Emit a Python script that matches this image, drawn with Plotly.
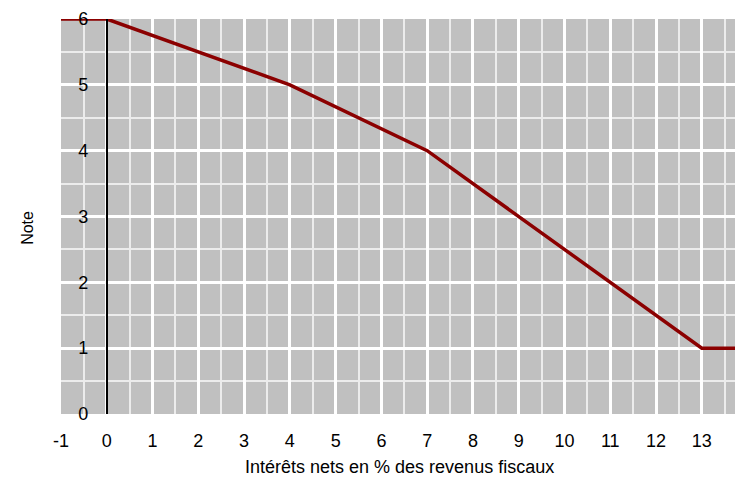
import plotly.graph_objects as go

# Data
interets = [-1, 0, 4, 7, 13, 14]
notes = [6, 6, 5, 4, 1, 1]
x_ticks = list(range(-1, 14))
x_ticktext = [str(v) for v in x_ticks]
y_ticks = list(range(0, 7))

x_title = "Intérêts nets en % des revenus fiscaux"
y_title = "Note"

FONT = "Liberation Sans Narrow, Liberation Sans, Arial, sans-serif"

fig = go.Figure()
fig.add_trace(go.Scatter(
    x=interets, y=notes, mode="lines",
    line=dict(color="#8b0000", width=3.5),
    showlegend=False, hoverinfo="skip",
))

x0, x1 = -1, 13.9
# page body has an 8px margin, so figure is 735x472 placed at (8, 8)
fig.update_layout(
    width=735, height=472,
    margin=dict(l=53, r=0, t=11, b=66, autoexpand=False),
    paper_bgcolor="white",
    plot_bgcolor="#c0c0c0",
    font=dict(family=FONT, size=18, color="black"),
    xaxis=dict(
        range=[x0, x1],
        tickvals=x_ticks, ticktext=x_ticktext,
        showgrid=True, gridcolor="white", gridwidth=2.5,
        minor=dict(dtick=0.5, tick0=0, showgrid=True, gridcolor="#ececec", gridwidth=1.5),
        zeroline=False, showline=False, automargin=False,
        ticks="outside", ticklen=10, tickcolor="rgba(0,0,0,0)",
    ),
    yaxis=dict(
        range=[0, 6],
        tickvals=y_ticks,
        showgrid=True, gridcolor="white", gridwidth=2.5,
        minor=dict(dtick=0.5, tick0=0, showgrid=True, gridcolor="#ececec", gridwidth=1.5),
        zeroline=False, automargin=False,
        showline=True, linecolor="black", linewidth=2,
        anchor="free", position=(0 - x0) / (x1 - x0),
        ticks="outside", ticklen=14, tickcolor="rgba(0,0,0,0)",
    ),
    annotations=[
        dict(
            text=y_title, xref="paper", yref="paper", x=0, y=0.47,
            xshift=-44, textangle=-90, showarrow=False,
            font=dict(family="Liberation Sans, Arial, sans-serif", size=16, color="black"),
        ),
        dict(
            text=x_title, xref="paper", yref="paper", x=0.497, y=0,
            yanchor="middle", yshift=-53, showarrow=False,
            font=dict(family=FONT, size=18, color="black"),
        ),
    ],
)

fig.write_html("out.html")
